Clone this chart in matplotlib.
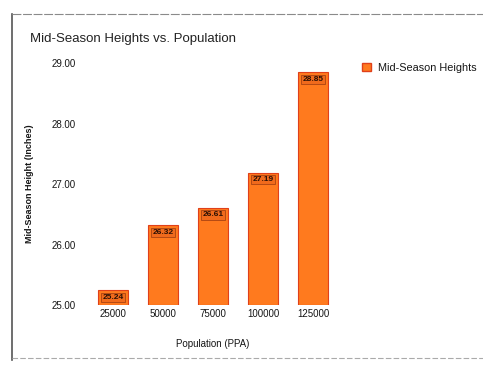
import matplotlib
matplotlib.use('Agg')
import matplotlib.pyplot as plt
from matplotlib.lines import Line2D
from matplotlib.patches import Patch

populations = ['25000', '50000', '75000', '100000', '125000']
heights = [25.24, 26.32, 26.61, 27.19, 28.85]
yticks = [25.0, 26.0, 27.0, 28.0, 29.0]

plt.rcParams['font.family'] = ['Liberation Sans', 'DejaVu Sans']

fig = plt.figure(figsize=(4.83, 3.67), dpi=100)
ax = fig.add_axes([0.182, 0.169, 0.518, 0.659])

bar_color = '#FF7A1E'
edge_color = '#E0401A'
text_color = '#161616'
x = list(range(len(populations)))
ax.bar(x, [h - 25.0 for h in heights], bottom=25.0, width=0.6,
       color=bar_color, edgecolor=edge_color, linewidth=0.8)

# value tags sitting just inside the top of each bar
for xi, h in zip(x, heights):
    ax.text(xi, h - 0.06, f'{h:.2f}', ha='center', va='top', fontsize=6,
            color='#2a1005', fontweight='bold',
            bbox=dict(boxstyle='square,pad=0.15', fc='#F06A1C', ec='#9a3a10', lw=0.5))

ax.set_ylim(25.0, 29.0)
ax.set_xlim(-0.5, len(populations) - 0.5)
ax.set_yticks(yticks)
ax.set_yticklabels([f'{t:.2f}' for t in yticks], fontsize=7, color=text_color)
ax.set_xticks(x)
ax.set_xticklabels(populations, fontsize=7, color=text_color)
ax.tick_params(length=0, pad=3)
ax.tick_params(axis='y', pad=9)
for s in ax.spines.values():
    s.set_visible(False)

ax.set_xlabel('Population (PPA)', fontsize=7, color=text_color, labelpad=14)
ax.set_ylabel('Mid-Season Height (Inches)', fontsize=6.5, color=text_color,
              fontweight='bold', labelpad=12)

fig.text(0.062, 0.895, 'Mid-Season Heights vs. Population', fontsize=9.5,
         color='#222222', va='center')

handle = Patch(facecolor=bar_color, edgecolor=edge_color)
fig.legend([handle], ['Mid-Season Heights'], loc='upper left',
           bbox_to_anchor=(0.73, 0.855), frameon=False, fontsize=7.8,
           labelcolor=text_color,
           handlelength=0.8, handleheight=0.8, handletextpad=0.6)

# outer frame of the panel
fig.add_artist(Line2D([0.025, 0.025], [0.02, 0.962], color='#555555', lw=1.2))
fig.add_artist(Line2D([0.025, 1.0], [0.962, 0.962], color='#8a8a8a', lw=0.8,
                      linestyle=(0, (8, 1.5))))
fig.add_artist(Line2D([0.025, 1.0], [0.025, 0.025], color='#aaaaaa', lw=0.8,
                      linestyle=(0, (5, 2))))

fig.savefig('out.png', dpi=100)
